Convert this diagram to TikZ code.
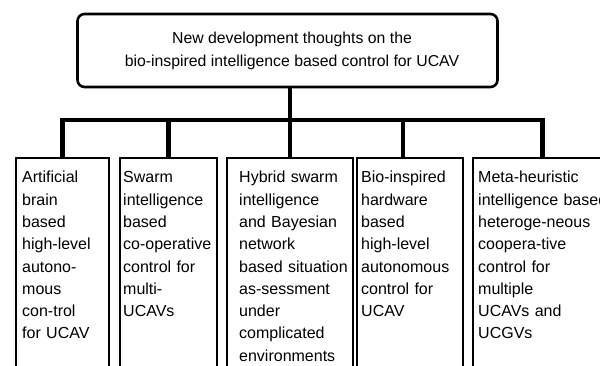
\documentclass[tikz,border=0pt]{standalone}
\usepackage{fontspec}
\setmainfont{Liberation Sans}
\begin{document}
\begin{tikzpicture}[x=1pt,y=-1pt,
  conn/.style={line width=4.4pt, line join=miter},
  topbox/.style={draw, line width=2.6pt, rounded corners=7pt, inner sep=0pt, minimum width=420pt, minimum height=73pt},
  leaf/.style={draw, line width=2pt, inner sep=0pt, anchor=north west, minimum height=240pt},
  leaftext/.style={anchor=north west, inner sep=0pt, text width=160pt, align=left, font=\fontsize{16}{22.3}\selectfont},
  toptext/.style={inner sep=0pt, align=center, font=\fontsize{15.8}{23}\selectfont}]
\useasboundingbox (0,0) rectangle (600,365);
\clip (0,0) rectangle (600,365);

\node[topbox] (top) at (287.5,50.5) {};
\node[toptext] (tt) at (292,51) {New development thoughts on the\\bio-inspired intelligence based control for UCAV};

\node[leaf, minimum width=93pt] (b1) at (15,157) {};
\node[leaf, minimum width=97pt] (b2) at (119,157) {};
\node[leaf, minimum width=126pt] (b3) at (226,157) {};
\node[leaf, minimum width=106pt] (b4) at (356,157) {};
\node[leaf, minimum width=139pt] (b5) at (472,157) {};

\node[leaftext] (t1) at (22,167) {\strut Artificial\\brain\\based\\high-level\\autono-\\mous\\con-trol\\for UCAV};
\node[leaftext] (t2) at (123,167) {\strut Swarm\\intelligence\\based\\co-operative\\control for\\multi-\\UCAVs};
\node[leaftext] (t3) at (239,167) {\strut Hybrid swarm\\intelligence\\and Bayesian\\network\\based situation\\as-sessment\\under\\complicated\\environments};
\node[leaftext] (t4) at (361,167) {\strut Bio-inspired\\hardware\\based\\high-level\\autonomous\\control for\\UCAV};
\node[leaftext] (t5) at (478,167) {\strut Meta-heuristic\\intelligence based\\heteroge-neous\\coopera-tive\\control for\\multiple\\UCAVs and\\UCGVs};

\coordinate (j) at (290,120);
\draw[conn] (b1.north) -- (b1.north |- j) -- (b5.north |- j) -- (b5.north);
\draw[conn] ([xshift=2.5pt]top.south) -- ([xshift=2.5pt]top.south |- j);
\draw[conn] (b2.north) -- (b2.north |- j);
\draw[conn] (b3.north) -- (b3.north |- j);
\draw[conn] ([xshift=-7pt]b4.north) -- ([xshift=-7pt]b4.north |- j);
\end{tikzpicture}
\end{document}
